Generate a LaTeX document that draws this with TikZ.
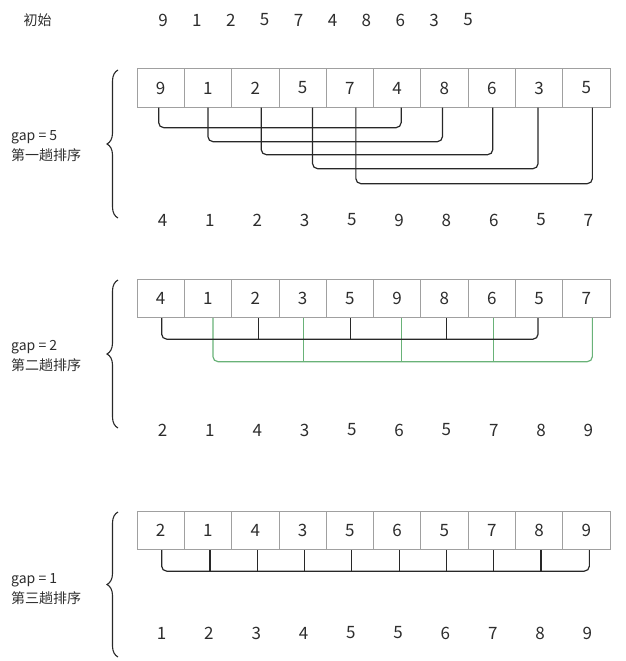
\documentclass[tikz,border=0pt]{standalone}
\usepackage{fontspec}
\setmainfont{Noto Sans CJK SC}
\definecolor{txtgray}{RGB}{45, 45, 45}
\definecolor{boxgray}{RGB}{160, 160, 160}
\definecolor{linegray}{RGB}{40, 40, 40}
\definecolor{gapgreen}{RGB}{105, 178, 120}
\usetikzlibrary{decorations.pathreplacing, calc}
\tikzset{
	cellbox/.style={rectangle, draw=boxgray, line width=0.8pt, minimum width=47.3pt, minimum height=38.5pt, inner sep=0pt, text=txtgray, font=\fontsize{17}{18}\selectfont},
	numtext/.style={inner sep=0pt, text=txtgray, font=\fontsize{17}{18}\selectfont},
	stagelabel/.style={anchor=west, align=left, inner sep=0pt, text=txtgray, font=\fontsize{14}{20}\selectfont},
	pairline/.style={draw=linegray, line width=1.2pt, rounded corners=5pt},
	tickline/.style={draw=linegray, line width=1.2pt},
	greenline/.style={draw=gapgreen, line width=1.2pt, rounded corners=5pt},
	greentick/.style={draw=gapgreen, line width=1.2pt},
	stagebrace/.style={draw=linegray, line width=1.1pt, decorate, decoration={brace, amplitude=11pt}},
}
\begin{document}
\begin{tikzpicture}[x=1pt, y=-1pt]
	\useasboundingbox (0,0) rectangle (626,661);
	% initial sequence
	\node[numtext, font=\fontsize{14}{16}\selectfont] (init) at (37.5,20) {初始};
	\foreach \v [count=\i] in {9,1,2,5,7,4,8,6,3,5}
		\node[numtext] (t\i) at ({163+33.9*(\i-1)},20) {\v};

	% pass 1, gap = 5
	\coordinate (res1) at (0,220);
	\foreach \v [count=\i] in {9,1,2,5,7,4,8,6,3,5}
		\node[cellbox] (a\i) at ({137+47.3*(\i-0.5)},88) {\v};
	\foreach \v [count=\i] in {4,1,2,3,5,9,8,6,5,7}
		\node[numtext] (ra\i) at ([xshift=2pt]a\i |- res1) {\v};
	\foreach \i/\d/\l/\r in {1/20/-2/4, 2/34/0/-2, 3/47/6/1, 4/61/10/-1, 5/76/6/6} {
		\pgfmathtruncatemacro{\j}{\i+5}
		\draw[pairline] ([xshift=\l pt]a\i.south) -- ++(0,\d) -| ([xshift=\r pt]a\j.south);
	}
	\draw[stagebrace] (118,218) -- (118,70);
	\node[stagelabel] (lab1) at (11,146) {gap = 5\\第一趟排序};

	% pass 2, gap = 2
	\coordinate (res2) at (0,430);
	\foreach \v [count=\i] in {4,1,2,3,5,9,8,6,5,7}
		\node[cellbox] (b\i) at ({137+47.3*(\i-0.5)},298.5) {\v};
	\foreach \v [count=\i] in {2,1,4,3,5,6,5,7,8,9}
		\node[numtext] (rb\i) at ([xshift=2pt]b\i |- res2) {\v};
	\draw[greenline] ([xshift=5pt]b2.south) -- ++(0,43.5) -| ([xshift=6pt]b10.south);
	\foreach \i/\s in {4/1,6/4,8/2}
		\draw[greentick] ([xshift=\s pt]b\i.south) -- ++(0,43.5);
	\draw[pairline] ([xshift=1pt]b1.south) -- ++(0,21) -| ([xshift=-1pt]b9.south);
	\foreach \i/\s in {3/3,5/1,7/2}
		\draw[tickline] ([xshift=\s pt]b\i.south) -- ++(0,21);
	\draw[stagebrace] (118,428) -- (118,280);
	\node[stagelabel] (lab2) at (11,355.5) {gap = 2\\第二趟排序};

	% pass 3, gap = 1
	\coordinate (res3) at (0,633);
	\foreach \v [count=\i] in {2,1,4,3,5,6,5,7,8,9}
		\node[cellbox] (c\i) at ({137+47.3*(\i-0.5)},530.5) {\v};
	\foreach \v [count=\i] in {1,2,3,4,5,5,6,7,8,9}
		\node[numtext] (rc\i) at ([xshift=1pt]c\i |- res3) {\v};
	\draw[pairline] ([xshift=1pt]c1.south) -- ++(0,21) -| ([xshift=3pt]c10.south);
	\foreach \i in {2,...,9}
		\draw[tickline] ([xshift=2pt]c\i.south) -- ++(0,21);
	\draw[stagebrace] (118,657) -- (118,512);
	\node[stagelabel] (lab3) at (11,589) {gap = 1\\第三趟排序};
\end{tikzpicture}
\end{document}
